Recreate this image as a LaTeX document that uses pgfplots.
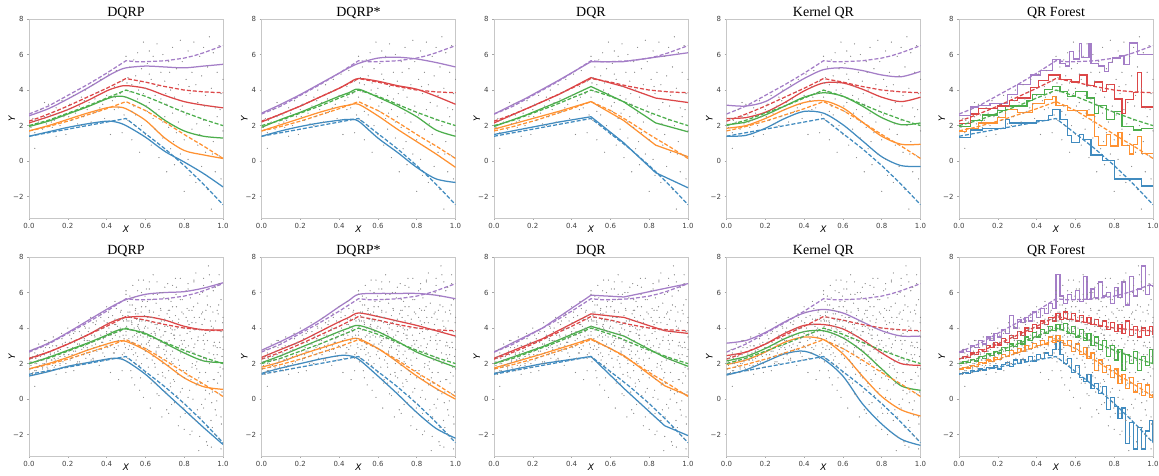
\documentclass[border=0pt]{standalone}
\usepackage{fontspec}
\setmainfont{Liberation Serif}
\newfontfamily\djv{DejaVu Sans}
\usepackage{pgfplots}
\usepackage{pgfplotstable}
\pgfplotsset{compat=1.18}
\definecolor{cB}{HTML}{1F77B4}
\definecolor{cO}{HTML}{FF7F0E}
\definecolor{cG}{HTML}{2CA02C}
\definecolor{cR}{HTML}{D62728}
\definecolor{cP}{HTML}{9467BD}
\colorlet{lB}{cB!85!white}
\colorlet{lO}{cO!85!white}
\colorlet{lG}{cG!85!white}
\colorlet{lR}{cR!85!white}
\colorlet{lP}{cP!85!white}
\colorlet{dotc}{black!45}

% true conditional quantiles (dashed)
\pgfplotstableread{
x b o g r p
0.00 1.40 1.70 2.00 2.25 2.65
0.05 1.50 1.82 2.15 2.44 2.87
0.10 1.60 1.95 2.30 2.65 3.10
0.15 1.70 2.10 2.50 2.87 3.40
0.20 1.80 2.25 2.70 3.10 3.70
0.25 1.90 2.42 2.90 3.35 4.00
0.30 2.00 2.60 3.10 3.60 4.30
0.35 2.10 2.77 3.32 3.85 4.62
0.40 2.20 2.95 3.55 4.10 4.95
0.45 2.30 3.15 3.77 4.37 5.30
0.50 2.40 3.35 4.00 4.65 5.65
0.55 1.98 3.10 3.83 4.55 5.60
0.60 1.55 2.85 3.65 4.45 5.60
0.65 1.13 2.53 3.43 4.32 5.62
0.70 0.70 2.20 3.20 4.20 5.65
0.75 0.23 1.85 2.97 4.10 5.72
0.80 -0.25 1.50 2.75 4.00 5.80
0.85 -0.77 1.17 2.55 3.95 5.93
0.90 -1.30 0.85 2.35 3.90 6.10
0.95 -1.87 0.50 2.17 3.87 6.30
1.00 -2.45 0.15 2.00 3.85 6.50
}\Ttrue

% DQRP, top
\pgfplotstableread{
x b o g r p
0.0 1.40 1.70 1.95 2.15 2.55
0.1 1.65 2.00 2.25 2.50 2.95
0.2 1.90 2.35 2.65 2.90 3.50
0.3 2.10 2.70 3.05 3.40 4.10
0.4 2.25 3.00 3.50 3.95 4.75
0.45 2.20 3.05 3.65 4.15 5.05
0.5 2.00 2.95 3.60 4.25 5.25
0.6 1.35 2.30 3.10 4.10 5.35
0.7 0.55 1.30 2.30 3.70 5.30
0.8 -0.05 0.60 1.70 3.35 5.25
0.9 -0.70 0.35 1.40 3.15 5.35
1.0 -1.45 0.15 1.30 3.00 5.45
}\Eone

% DQRP*, top
\pgfplotstableread{
x b o g r p
0.0 1.40 1.70 1.90 2.20 2.70
0.1 1.70 2.05 2.35 2.65 3.20
0.2 1.95 2.40 2.75 3.10 3.75
0.3 2.15 2.75 3.20 3.60 4.35
0.4 2.30 3.05 3.65 4.10 4.95
0.45 2.35 3.15 3.85 4.40 5.25
0.5 2.25 3.20 4.05 4.65 5.50
0.6 1.30 2.55 3.60 4.50 5.80
0.7 0.50 1.80 3.10 4.25 5.85
0.8 -0.35 1.10 2.50 4.05 5.75
0.9 -1.00 0.40 1.75 3.65 5.55
1.0 -1.20 -0.35 1.40 3.20 5.30
}\Etwo

% DQR, top
\pgfplotstableread{
x b o g r p
0.0 1.50 1.80 1.95 2.15 2.65
0.1667 1.85 2.30 2.60 2.95 3.55
0.3333 2.20 2.80 3.35 3.75 4.55
0.5 2.50 3.35 4.20 4.70 5.60
0.6667 1.05 2.30 3.35 4.20 5.60
0.8333 -0.65 0.90 2.15 3.55 5.85
1.0 -1.50 0.25 1.65 3.30 6.10
}\Ethree

% Kernel QR, top
\pgfplotstableread{
x b o g r p
0.0 1.40 1.85 2.05 2.40 3.15
0.1 1.45 2.00 2.20 2.45 3.10
0.2 1.85 2.40 2.60 2.75 3.35
0.3 2.40 2.90 3.10 3.30 4.00
0.4 2.80 3.30 3.60 3.95 4.65
0.5 2.70 3.40 3.85 4.40 5.15
0.6 2.05 3.00 3.65 4.40 5.25
0.7 1.15 2.20 3.10 4.05 5.10
0.8 0.25 1.40 2.45 3.60 4.85
0.9 -0.25 0.95 2.05 3.35 4.75
1.0 -0.30 0.95 2.15 3.60 5.05
}\Efour

% DQRP, bottom
\pgfplotstableread{
x b o g r p
0.0 1.30 1.70 2.00 2.30 2.70
0.1 1.55 2.00 2.35 2.65 3.15
0.2 1.85 2.35 2.75 3.10 3.75
0.3 2.05 2.75 3.15 3.60 4.40
0.4 2.25 3.10 3.60 4.20 5.05
0.45 2.30 3.25 3.85 4.45 5.35
0.5 2.15 3.25 3.95 4.60 5.60
0.6 1.40 2.75 3.70 4.65 5.90
0.7 0.40 2.00 3.15 4.45 6.00
0.8 -0.60 1.20 2.60 4.10 6.05
0.9 -1.60 0.70 2.15 3.90 6.25
1.0 -2.55 0.55 2.05 3.90 6.55
}\Esix

% DQRP*, bottom
\pgfplotstableread{
x b o g r p
0.0 1.45 1.80 2.05 2.35 2.75
0.1 1.75 2.10 2.45 2.80 3.25
0.2 2.00 2.50 2.90 3.25 3.80
0.3 2.25 2.85 3.35 3.80 4.45
0.4 2.45 3.20 3.80 4.35 5.20
0.45 2.45 3.35 4.00 4.60 5.55
0.5 2.25 3.40 4.15 4.85 5.90
0.6 1.30 2.85 3.80 4.65 5.95
0.7 0.30 2.10 3.25 4.40 5.95
0.8 -0.75 1.30 2.65 4.15 5.95
0.9 -1.65 0.60 2.20 3.85 5.85
1.0 -2.20 0.00 1.80 3.55 5.65
}\Eseven

% DQR, bottom
\pgfplotstableread{
x b o g r p
0.0 1.45 1.75 2.00 2.30 2.65
0.25 2.00 2.55 2.95 3.40 4.00
0.5 2.40 3.40 4.10 4.80 5.85
0.67 0.60 2.45 3.55 4.60 5.75
0.88 -1.50 0.75 2.35 3.85 6.23
1.0 -2.05 0.20 1.85 3.70 6.50
}\Eeight

% Kernel QR, bottom
\pgfplotstableread{
x b o g r p
0.0 1.35 1.95 2.15 2.45 3.15
0.1 1.65 2.20 2.40 2.65 3.30
0.2 2.10 2.65 2.85 3.10 3.75
0.3 2.55 3.20 3.40 3.70 4.35
0.4 2.70 3.50 3.80 4.15 4.85
0.5 2.25 3.35 3.85 4.20 5.05
0.6 1.30 2.55 3.45 3.95 4.85
0.7 -0.25 1.30 2.70 3.35 4.35
0.8 -1.40 0.15 1.70 2.60 3.85
0.9 -2.25 -0.60 0.75 2.00 3.55
1.0 -2.60 -0.95 0.50 1.90 3.55
}\Enine

% observations, top row
\pgfplotstableread[row sep=\\]{
x y\\
0.01 1.9\\ 0.02 2.4\\ 0.03 1.6\\ 0.03 0.72\\ 0.05 2.2\\ 0.06 2.9\\ 0.07 1.8\\ 0.08 2.5\\ 0.09 2.1\\ 0.10 3.2\\
0.11 2.6\\ 0.12 1.9\\ 0.13 2.3\\ 0.14 3.0\\ 0.15 2.7\\ 0.16 2.0\\ 0.17 3.4\\ 0.18 2.5\\ 0.19 1.5\\ 0.20 2.9\\
0.21 3.2\\ 0.22 2.3\\ 0.23 3.7\\ 0.24 2.7\\ 0.25 2.1\\ 0.26 3.1\\ 0.27 3.6\\ 0.28 2.5\\ 0.29 4.0\\ 0.30 2.9\\
0.31 3.3\\ 0.32 2.2\\ 0.33 4.3\\ 0.34 3.5\\ 0.35 2.8\\ 0.36 3.9\\ 0.37 4.6\\ 0.38 3.2\\ 0.39 2.4\\ 0.40 3.7\\
0.41 4.9\\ 0.42 1.5\\ 0.43 3.4\\ 0.44 4.2\\ 0.45 5.1\\ 0.46 3.0\\ 0.47 3.8\\ 0.48 4.5\\ 0.49 2.6\\ 0.50 5.9\\
0.50 3.6\\ 0.51 4.7\\ 0.51 2.3\\ 0.52 5.3\\ 0.52 3.9\\ 0.53 4.3\\ 0.53 1.2\\ 0.54 5.7\\ 0.54 3.1\\ 0.55 4.8\\
0.55 2.6\\ 0.56 6.1\\ 0.56 3.5\\ 0.57 0.5\\ 0.57 4.4\\ 0.58 2.0\\ 0.58 5.2\\ 0.59 3.8\\ 0.59 6.7\\ 0.60 1.5\\
0.60 4.1\\ 0.61 5.5\\ 0.61 2.8\\ 0.62 3.3\\ 0.62 6.2\\ 0.63 0.9\\ 0.63 4.6\\ 0.64 2.4\\ 0.64 5.9\\ 0.65 3.7\\
0.65 1.8\\ 0.66 6.6\\ 0.66 4.2\\ 0.67 2.9\\ 0.67 0.2\\ 0.68 5.0\\ 0.68 3.5\\ 0.69 1.3\\ 0.69 6.0\\ 0.70 2.5\\
0.70 4.5\\ 0.71 -0.6\\ 0.71 3.2\\ 0.72 5.6\\ 0.72 1.9\\ 0.73 4.0\\ 0.73 0.7\\ 0.74 6.4\\ 0.74 2.7\\ 0.75 3.6\\
0.75 -0.2\\ 0.76 5.2\\ 0.76 1.6\\ 0.77 4.3\\ 0.77 2.2\\ 0.78 6.8\\ 0.78 0.4\\ 0.79 3.1\\ 0.79 5.6\\ 0.80 -1.7\\
0.80 1.2\\ 0.81 4.6\\ 0.81 2.6\\ 0.82 6.2\\ 0.82 0.1\\ 0.83 3.8\\ 0.83 -0.8\\ 0.84 5.0\\ 0.84 1.8\\ 0.85 2.9\\
0.85 6.7\\ 0.86 -1.2\\ 0.86 4.3\\ 0.87 0.9\\ 0.87 3.3\\ 0.88 5.9\\ 0.88 1.5\\ 0.89 -0.3\\ 0.89 4.8\\ 0.90 2.3\\
0.90 6.4\\ 0.91 0.5\\ 0.91 3.7\\ 0.92 -1.6\\ 0.92 5.3\\ 0.93 2.0\\ 0.93 7.0\\ 0.94 -2.7\\ 0.94 4.1\\ 0.95 1.1\\
0.95 6.1\\ 0.96 3.0\\ 0.96 -0.6\\ 0.97 5.0\\ 0.97 2.5\\ 0.98 0.3\\ 0.98 6.5\\ 0.99 3.8\\ 0.99 -1.0\\ 1.00 4.6\\
1.00 1.7\\ 0.08 3.3\\ 0.14 1.4\\ 0.27 2.0\\ 0.33 2.7\\ 0.44 2.9\\ 0.48 1.6\\ 0.53 2.8\\ 0.62 4.9\\ 0.69 2.2\\
0.035 2.3\\ 0.115 2.2\\ 0.205 2.5\\ 0.285 3.4\\ 0.365 3.0\\ 0.445 3.6\\ 0.505 4.4\\ 0.565 4.0\\ 0.605 3.1\\ 0.655 2.7\\
0.705 3.8\\ 0.745 1.1\\ 0.785 2.8\\ 0.825 4.2\\ 0.865 2.1\\ 0.905 3.1\\ 0.945 0.4\\ 0.985 2.9\\ 0.545 2.0\\ 0.725 5.0\\
}\PtsA

% additional observations, bottom row
\pgfplotstableread[row sep=\\]{
x y\\
0.005 1.7\\ 0.012 2.3\\ 0.018 1.4\\ 0.024 2.8\\ 0.031 2.0\\ 0.037 1.6\\ 0.043 2.5\\ 0.05 3.1\\ 0.056 1.9\\ 0.062 2.2\\
0.068 1.5\\ 0.075 2.7\\ 0.081 2.0\\ 0.087 3.3\\ 0.093 1.8\\ 0.1 2.4\\ 0.106 2.9\\ 0.112 1.6\\ 0.118 2.2\\ 0.125 3.5\\
0.131 2.6\\ 0.137 1.9\\ 0.143 3.0\\ 0.15 2.3\\ 0.156 1.7\\ 0.162 2.8\\ 0.168 3.7\\ 0.175 2.1\\ 0.181 2.5\\ 0.187 3.2\\
0.193 1.8\\ 0.2 4.0\\ 0.206 2.7\\ 0.212 2.2\\ 0.218 3.4\\ 0.225 2.9\\ 0.231 1.6\\ 0.237 3.8\\ 0.243 2.4\\ 0.25 3.1\\
0.256 4.3\\ 0.262 2.6\\ 0.268 2.0\\ 0.275 3.5\\ 0.281 2.9\\ 0.287 4.1\\ 0.293 2.3\\ 0.3 3.3\\ 0.306 3.8\\ 0.312 2.5\\
0.318 4.6\\ 0.325 3.0\\ 0.331 2.2\\ 0.337 3.6\\ 0.343 4.2\\ 0.35 2.7\\ 0.356 3.9\\ 0.362 1.9\\ 0.368 4.8\\ 0.375 3.2\\
0.381 2.6\\ 0.387 4.4\\ 0.393 3.5\\ 0.4 5.2\\ 0.406 2.9\\ 0.412 4.0\\ 0.418 3.3\\ 0.425 2.3\\ 0.431 4.7\\ 0.437 3.7\\
0.443 5.5\\ 0.45 2.8\\ 0.456 4.1\\ 0.462 1.1\\ 0.468 3.5\\ 0.475 5.0\\ 0.481 2.5\\ 0.487 4.4\\ 0.493 3.1\\ 0.5 6.1\\
0.5 3.8\\ 0.505 2.1\\ 0.51 4.9\\ 0.515 3.4\\ 0.52 5.8\\ 0.525 1.6\\ 0.53 4.2\\ 0.535 6.4\\ 0.54 2.9\\ 0.545 0.8\\
0.55 5.1\\ 0.555 3.7\\ 0.56 2.4\\ 0.565 6.7\\ 0.57 4.5\\ 0.575 1.2\\ 0.58 3.1\\ 0.585 5.5\\ 0.59 0.1\\ 0.595 4.0\\
0.6 2.7\\ 0.605 6.2\\ 0.61 3.5\\ 0.615 1.8\\ 0.62 5.0\\ 0.625 -0.5\\ 0.63 4.3\\ 0.635 2.2\\ 0.64 7.0\\ 0.645 3.8\\
0.65 0.9\\ 0.655 5.4\\ 0.66 2.9\\ 0.665 1.4\\ 0.67 4.7\\ 0.675 6.0\\ 0.68 3.2\\ 0.685 -1.0\\ 0.69 2.0\\ 0.695 5.7\\
0.7 4.1\\ 0.705 0.4\\ 0.71 3.0\\ 0.715 6.5\\ 0.72 1.6\\ 0.725 4.6\\ 0.73 2.5\\ 0.735 -0.3\\ 0.74 5.2\\ 0.745 3.6\\
0.75 1.0\\ 0.755 6.8\\ 0.76 2.8\\ 0.765 4.0\\ 0.77 -1.5\\ 0.775 1.9\\ 0.78 5.6\\ 0.785 3.3\\ 0.79 0.6\\ 0.795 4.8\\
0.8 2.3\\ 0.805 -0.8\\ 0.81 6.1\\ 0.815 3.7\\ 0.82 1.3\\ 0.825 5.0\\ 0.83 -2.0\\ 0.835 2.7\\ 0.84 4.3\\ 0.845 0.0\\
0.85 6.6\\ 0.855 3.1\\ 0.86 -1.2\\ 0.865 1.7\\ 0.87 5.4\\ 0.875 -2.9\\ 0.88 3.9\\ 0.885 0.9\\ 0.89 2.4\\ 0.895 6.0\\
0.9 -0.5\\ 0.905 4.5\\ 0.91 1.5\\ 0.915 -2.4\\ 0.92 3.3\\ 0.925 7.5\\ 0.93 0.3\\ 0.935 5.2\\ 0.94 2.1\\ 0.945 -1.6\\
0.95 4.0\\ 0.955 1.1\\ 0.96 6.3\\ 0.965 -0.9\\ 0.97 2.9\\ 0.975 4.8\\ 0.98 -2.2\\ 0.985 1.8\\ 0.99 5.6\\ 0.995 0.4\\
1.0 3.5\\ 0.502 4.5\\ 0.512 2.8\\ 0.522 3.9\\ 0.532 5.3\\ 0.542 4.0\\ 0.552 2.2\\ 0.562 4.8\\ 0.572 3.0\\ 0.582 4.4\\
0.592 2.5\\ 0.602 5.2\\ 0.612 4.6\\ 0.622 3.0\\ 0.632 1.1\\ 0.642 4.9\\ 0.652 3.6\\ 0.662 5.9\\ 0.672 2.4\\ 0.682 4.4\\
0.692 3.6\\ 0.702 1.2\\ 0.712 4.8\\ 0.722 3.3\\ 0.732 5.5\\ 0.742 2.0\\ 0.752 3.9\\ 0.762 0.2\\ 0.772 4.5\\ 0.782 2.6\\
0.792 -0.2\\ 0.802 4.0\\ 0.812 1.6\\ 0.822 3.0\\ 0.832 5.7\\ 0.842 2.0\\ 0.852 4.6\\ 0.862 0.8\\ 0.872 3.5\\ 0.882 -1.0\\
0.892 4.2\\ 0.902 2.8\\ 0.912 5.0\\ 0.922 1.0\\ 0.932 3.8\\ 0.942 -0.2\\ 0.952 2.5\\ 0.962 4.4\\ 0.972 0.9\\ 0.982 3.2\\
0.992 -1.4\\ 0.303 2.8\\ 0.323 3.6\\ 0.343 3.1\\ 0.363 4.0\\ 0.383 3.4\\ 0.403 4.3\\ 0.423 3.8\\ 0.443 4.5\\ 0.463 3.9\\
0.483 4.7\\ 0.503 4.1\\ 0.523 4.6\\ 0.543 3.6\\ 0.563 4.2\\ 0.583 3.8\\ 0.613 4.0\\ 0.643 3.4\\ 0.673 3.9\\ 0.703 3.0\\
0.733 3.7\\ 0.02 1.5\\ 0.07 1.7\\ 0.13 1.8\\ 0.19 2.0\\ 0.26 2.1\\ 0.33 2.3\\ 0.39 2.2\\ 0.44 2.6\\ 0.48 2.3\\
}\PtsB

% more observations, bottom row
\pgfplotstableread[row sep=\\]{
x y\\
0.01 2.1\\ 0.03 2.6\\ 0.045 1.8\\ 0.058 2.4\\ 0.072 2.0\\ 0.085 2.9\\ 0.097 1.7\\ 0.11 2.5\\ 0.122 3.0\\ 0.135 2.2\\
0.148 2.7\\ 0.16 1.9\\ 0.172 3.1\\ 0.185 2.4\\ 0.197 2.9\\ 0.21 3.6\\ 0.222 2.5\\ 0.235 3.2\\ 0.247 2.0\\ 0.26 3.8\\
0.272 2.8\\ 0.285 3.3\\ 0.297 2.6\\ 0.31 4.0\\ 0.322 3.2\\ 0.335 2.9\\ 0.347 4.4\\ 0.36 3.4\\ 0.372 2.8\\ 0.385 4.0\\
0.397 3.0\\ 0.41 4.6\\ 0.422 3.6\\ 0.435 2.6\\ 0.447 4.2\\ 0.46 3.3\\ 0.472 4.9\\ 0.485 3.6\\ 0.497 2.9\\ 0.508 5.5\\
0.518 3.0\\ 0.528 4.4\\ 0.538 2.5\\ 0.548 5.0\\ 0.558 3.3\\ 0.568 1.9\\ 0.578 4.9\\ 0.588 3.5\\ 0.598 5.8\\ 0.608 2.3\\
0.618 4.4\\ 0.628 3.4\\ 0.638 5.6\\ 0.648 2.0\\ 0.658 4.0\\ 0.668 3.0\\ 0.678 5.1\\ 0.688 1.5\\ 0.698 4.4\\ 0.708 2.7\\
0.718 5.0\\ 0.728 0.9\\ 0.738 3.9\\ 0.748 2.3\\ 0.758 5.9\\ 0.768 1.4\\ 0.778 3.6\\ 0.788 4.9\\ 0.798 -0.5\\ 0.808 2.9\\
0.818 4.4\\ 0.828 0.5\\ 0.838 3.4\\ 0.848 5.2\\ 0.858 1.9\\ 0.868 -0.6\\ 0.878 4.6\\ 0.888 2.2\\ 0.898 3.3\\ 0.908 0.0\\
0.918 5.8\\ 0.928 2.6\\ 0.938 -1.2\\ 0.948 4.9\\ 0.958 2.3\\ 0.968 -0.1\\ 0.978 5.3\\ 0.988 1.3\\ 0.998 4.3\\ 0.515 4.4\\
0.535 3.5\\ 0.555 4.5\\ 0.575 3.6\\ 0.595 4.7\\ 0.615 3.2\\ 0.635 4.6\\ 0.655 2.6\\ 0.675 4.3\\ 0.695 2.8\\ 0.715 4.1\\
0.735 2.1\\ 0.755 4.7\\ 0.775 3.0\\ 0.795 1.6\\ 0.815 5.1\\ 0.835 1.1\\ 0.855 3.9\\ 0.875 1.2\\ 0.895 4.9\\ 0.915 2.2\\
0.935 4.4\\ 0.955 3.2\\ 0.975 1.5\\ 0.995 2.4\\ 0.42 3.0\\ 0.46 4.5\\ 0.49 3.4\\ 0.37 3.6\\ 0.29 3.0\\ 0.23 2.7\\
0.16 2.4\\ 0.09 2.2\\ 0.04 2.0\\ 0.4 3.8\\ 0.47 4.0\\ 0.52 4.9\\ 0.57 3.9\\ 0.6 4.4\\ 0.65 4.2\\ 0.7 3.8\\
0.75 3.4\\ 0.8 3.3\\ 0.85 2.6\\ 0.9 3.6\\ 0.95 3.0\\ 1.0 2.8\\ 0.66 0.3\\ 0.72 -0.8\\ 0.78 -1.0\\ 0.84 -1.8\\
0.88 -2.1\\ 0.92 -2.6\\ 0.96 -2.0\\ 0.99 -2.8\\ 0.7 6.3\\ 0.76 6.3\\ 0.82 6.5\\ 0.86 7.1\\ 0.9 6.8\\ 0.94 6.6\\
0.98 7.0\\ 0.58 6.0\\ 0.62 6.6\\ 0.53 3.2\\ 0.56 4.1\\ 0.59 2.9\\ 0.63 3.7\\ 0.67 3.3\\ 0.71 2.3\\ 0.74 4.4\\
}\PtsC

\pgfplotsset{
  panel/.style={
    scale only axis, width=194pt, height=199pt, anchor=south west,
    xmin=0, xmax=1, ymin=-3.2, ymax=8,
    xtick={0,0.2,0.4,0.6,0.8,1}, xticklabels={0.0,0.2,0.4,0.6,0.8,1.0},
    ytick={-2,0,2,4,6,8}, yticklabels={−2,0,2,4,6,8},
    tick label style={font=\djv\fontsize{7}{8}\selectfont, color=black!75},
    axis line style={color=black!22},
    tick style={color=black!35, line width=0.5pt},
    tick align=outside, major tick length=2pt, tick pos=left,
    xlabel={X}, ylabel={Y},
    label style={font=\djv\itshape\fontsize{9}{10}\selectfont},
    xlabel style={at={(axis description cs:0.5,-0.075)}, anchor=base},
    ylabel style={at={(axis description cs:-0.072,0.5)}, anchor=base},
    title style={at={(axis description cs:0.5,1.012)}, anchor=base, yshift=-6pt, font=\fontsize{14}{16}\selectfont},
  },
  pts/.style={only marks, mark=*, mark size=0.5pt, color=dotc, line width=0.1pt},
  est/.style={mark=none, line width=1.25pt},
  tru/.style={mark=none, line width=1.25pt, dash pattern=on 4pt off 2pt},
}

\newcommand\drawtrue{%
  \addplot[tru,color=lB] table[x=x,y=b]{\Ttrue};
  \addplot[tru,color=lO] table[x=x,y=o]{\Ttrue};
  \addplot[tru,color=lG] table[x=x,y=g]{\Ttrue};
  \addplot[tru,color=lR] table[x=x,y=r]{\Ttrue};
  \addplot[tru,color=lP] table[x=x,y=p]{\Ttrue};
}
\newcommand\drawest[2][]{%
  \addplot[est,color=lB,#1] table[x=x,y=b]{#2};
  \addplot[est,color=lO,#1] table[x=x,y=o]{#2};
  \addplot[est,color=lG,#1] table[x=x,y=g]{#2};
  \addplot[est,color=lR,#1] table[x=x,y=r]{#2};
  \addplot[est,color=lP,#1] table[x=x,y=p]{#2};
}
\newcommand\ptsTop{\addplot[pts] table[x=x,y=y]{\PtsA};}
\newcommand\ptsBot{\addplot[pts] table[x=x,y=y]{\PtsA};\addplot[pts] table[x=x,y=y]{\PtsB};\addplot[pts] table[x=x,y=y]{\PtsC};}

\begin{document}
\begin{tikzpicture}
\path[use as bounding box] (0pt,0pt) rectangle (1159pt,476pt);

% ---------- top row ----------
\begin{axis}[panel, at={(29pt,258pt)}, title={DQRP}]
\ptsTop \drawest[smooth]{\Eone} \drawtrue
\end{axis}
\begin{axis}[panel, at={(261.5pt,258pt)}, title={DQRP*}]
\ptsTop \drawest[smooth]{\Etwo} \drawtrue
\end{axis}
\begin{axis}[panel, at={(494pt,258pt)}, title={DQR}]
\ptsTop \drawest{\Ethree} \drawtrue
\end{axis}
\begin{axis}[panel, at={(726.5pt,258pt)}, title={Kernel QR}]
\ptsTop \drawest[smooth]{\Efour} \drawtrue
\end{axis}
\begin{axis}[panel, at={(959pt,258pt)}, title={QR Forest}]
\ptsTop
\addplot[est,color=lB,const plot] coordinates {(0,1.35)(0.06,1.75)(0.12,1.85)(0.24,2.35)(0.26,2.15)(0.4,2.3)(0.46,2.55)(0.48,2.9)(0.52,2.35)(0.56,1.45)(0.58,1.05)(0.62,1.5)(0.64,1.2)(0.68,0.35)(0.74,0.05)(0.8,-1.0)(0.94,-1.4)(1.0,-1.4)};
\addplot[est,color=lO,const plot] coordinates {(0,1.65)(0.04,1.85)(0.1,2.15)(0.2,2.45)(0.24,2.9)(0.3,2.75)(0.38,3.25)(0.44,3.45)(0.48,3.65)(0.5,3.15)(0.56,2.85)(0.66,2.6)(0.7,1.4)(0.72,0.9)(0.76,1.5)(0.78,0.85)(0.82,1.6)(0.84,0.9)(0.88,0.4)(0.9,0.95)(0.92,1.4)(0.94,0.45)(1.0,0.45)};
\addplot[est,color=lG,const plot] coordinates {(0,1.95)(0.06,2.3)(0.12,2.6)(0.2,2.85)(0.24,3.1)(0.35,3.4)(0.38,3.75)(0.44,4.05)(0.48,4.2)(0.52,3.9)(0.56,3.65)(0.6,3.9)(0.66,3.55)(0.7,2.7)(0.72,3.15)(0.76,2.35)(0.8,2.8)(0.84,1.95)(0.9,1.75)(0.94,1.85)(1.0,1.85)};
\addplot[est,color=lR,const plot] coordinates {(0,2.1)(0.06,2.65)(0.1,2.95)(0.2,3.1)(0.26,3.4)(0.3,3.55)(0.37,4.15)(0.41,4.55)(0.46,4.85)(0.52,4.6)(0.58,4.45)(0.62,4.85)(0.66,4.25)(0.7,4.45)(0.74,3.9)(0.76,4.3)(0.8,3.5)(0.84,2.7)(0.86,3.45)(0.9,3.85)(0.92,5.0)(0.94,3.05)(1.0,3.05)};
\addplot[est,color=lP,const plot] coordinates {(0,2.55)(0.06,3.05)(0.1,3.15)(0.16,3.25)(0.25,3.75)(0.3,4.3)(0.37,4.85)(0.42,5.1)(0.48,5.7)(0.52,5.5)(0.55,5.35)(0.57,6.15)(0.59,5.75)(0.62,6.6)(0.63,5.85)(0.67,6.6)(0.68,5.5)(0.72,5.35)(0.75,5.05)(0.77,5.55)(0.79,5.8)(0.83,5.95)(0.85,5.45)(0.88,6.65)(0.92,6.0)(1.0,6.0)};
\drawtrue
\end{axis}

% ---------- bottom row ----------
\begin{axis}[panel, at={(29pt,20pt)}, title={DQRP}]
\ptsBot \drawest[smooth]{\Esix} \drawtrue
\end{axis}
\begin{axis}[panel, at={(261.5pt,20pt)}, title={DQRP*}]
\ptsBot \drawest[smooth]{\Eseven} \drawtrue
\end{axis}
\begin{axis}[panel, at={(494pt,20pt)}, title={DQR}]
\ptsBot \drawest{\Eeight} \drawtrue
\end{axis}
\begin{axis}[panel, at={(726.5pt,20pt)}, title={Kernel QR}]
\ptsBot \drawest[smooth]{\Enine} \drawtrue
\end{axis}
\begin{axis}[panel, at={(959pt,20pt)}, title={QR Forest}]
\ptsBot
\addplot[est,color=lB,const plot] coordinates {(0,1.45)(0.02,1.5)(0.04,1.45)(0.06,1.6)(0.08,1.55)(0.1,1.7)(0.12,1.6)(0.14,1.8)(0.16,1.75)(0.18,1.9)(0.2,1.7)(0.22,1.95)(0.24,2.05)(0.26,1.85)(0.28,2.2)(0.3,2.0)(0.32,2.25)(0.34,2.1)(0.36,2.4)(0.38,2.15)(0.4,2.5)(0.42,2.3)(0.44,2.6)(0.46,2.45)(0.48,2.8)(0.5,3.25)(0.52,2.5)(0.54,2.0)(0.56,2.3)(0.58,1.5)(0.6,1.9)(0.62,1.2)(0.64,1.0)(0.66,1.4)(0.68,0.6)(0.7,0.9)(0.72,0.3)(0.74,0.7)(0.76,-0.6)(0.78,0.1)(0.8,-0.4)(0.82,-1.1)(0.84,-0.5)(0.86,-2.5)(0.88,-1.3)(0.9,-2.8)(0.92,-1.6)(0.94,-2.8)(0.96,-1.8)(0.98,-1.2)(1.0,-2.4)};
\addplot[est,color=lO,const plot] coordinates {(0,1.7)(0.02,1.8)(0.04,1.75)(0.06,1.9)(0.08,1.85)(0.1,2.05)(0.12,2.0)(0.14,2.2)(0.16,2.1)(0.18,2.35)(0.2,2.25)(0.22,2.5)(0.24,2.4)(0.26,2.75)(0.28,2.6)(0.3,2.85)(0.32,2.7)(0.34,3.0)(0.36,2.85)(0.38,3.15)(0.4,3.0)(0.42,3.3)(0.44,3.1)(0.46,3.5)(0.48,3.2)(0.5,3.6)(0.52,3.3)(0.54,3.0)(0.56,3.3)(0.58,2.7)(0.6,3.1)(0.62,2.5)(0.64,2.9)(0.66,2.3)(0.68,2.6)(0.7,1.6)(0.72,2.2)(0.74,1.5)(0.76,1.9)(0.78,1.2)(0.8,1.7)(0.82,0.9)(0.84,1.4)(0.86,0.6)(0.88,1.2)(0.9,0.4)(0.92,0.9)(0.94,0.2)(0.96,0.8)(0.98,0.1)(1.0,0.3)};
\addplot[est,color=lG,const plot] coordinates {(0,2.0)(0.02,2.1)(0.04,2.05)(0.06,2.25)(0.08,2.15)(0.1,2.4)(0.12,2.3)(0.14,2.55)(0.16,2.45)(0.18,2.7)(0.2,2.6)(0.22,2.9)(0.24,2.75)(0.26,3.1)(0.28,2.95)(0.3,3.3)(0.32,3.1)(0.34,3.5)(0.36,3.3)(0.38,3.75)(0.4,3.5)(0.42,3.9)(0.44,3.7)(0.46,4.1)(0.48,3.85)(0.5,4.2)(0.52,3.9)(0.54,4.25)(0.56,3.7)(0.58,4.1)(0.6,3.5)(0.62,3.9)(0.64,3.3)(0.66,3.7)(0.68,3.0)(0.7,3.5)(0.72,2.8)(0.74,3.3)(0.76,2.4)(0.78,3.0)(0.8,2.2)(0.82,2.8)(0.84,1.6)(0.86,2.5)(0.88,2.0)(0.9,2.7)(0.92,1.6)(0.94,2.4)(0.96,1.9)(0.98,2.8)(1.0,2.0)};
\addplot[est,color=lR,const plot] coordinates {(0,2.3)(0.02,2.4)(0.04,2.35)(0.06,2.6)(0.08,2.5)(0.1,2.8)(0.12,2.7)(0.14,3.0)(0.16,2.9)(0.18,3.2)(0.2,3.05)(0.22,3.4)(0.24,3.2)(0.26,3.6)(0.28,3.4)(0.3,3.8)(0.32,3.6)(0.34,4.0)(0.36,3.8)(0.38,4.2)(0.4,4.0)(0.42,4.4)(0.44,4.2)(0.46,4.6)(0.48,4.4)(0.5,4.8)(0.52,4.5)(0.54,4.9)(0.56,4.5)(0.58,4.8)(0.6,4.4)(0.62,4.7)(0.64,4.3)(0.66,4.6)(0.68,4.2)(0.7,4.5)(0.72,4.1)(0.74,4.4)(0.76,3.9)(0.78,4.3)(0.8,3.8)(0.82,4.2)(0.84,3.7)(0.86,4.4)(0.88,3.6)(0.9,4.1)(0.92,3.5)(0.94,4.0)(0.96,3.6)(0.98,4.1)(1.0,3.6)};
\addplot[est,color=lP,const plot] coordinates {(0,2.65)(0.02,2.8)(0.04,2.7)(0.06,3.0)(0.08,2.9)(0.1,3.3)(0.12,3.1)(0.14,3.5)(0.16,3.3)(0.18,3.7)(0.2,3.5)(0.22,3.9)(0.24,3.7)(0.26,4.7)(0.28,4.0)(0.3,4.5)(0.32,4.3)(0.34,4.6)(0.36,4.4)(0.38,4.9)(0.4,4.6)(0.42,5.1)(0.44,4.8)(0.46,5.4)(0.48,5.1)(0.5,7.0)(0.52,5.8)(0.54,5.4)(0.56,5.9)(0.58,5.6)(0.6,6.1)(0.62,5.5)(0.64,6.9)(0.66,5.6)(0.68,6.2)(0.7,5.7)(0.72,6.6)(0.74,5.8)(0.76,6.0)(0.78,5.4)(0.8,6.3)(0.82,5.7)(0.84,6.6)(0.86,5.3)(0.88,6.9)(0.9,5.8)(0.92,6.2)(0.94,7.5)(0.96,5.9)(0.98,6.4)(1.0,6.3)};
\drawtrue
\end{axis}
\end{tikzpicture}
\end{document}
